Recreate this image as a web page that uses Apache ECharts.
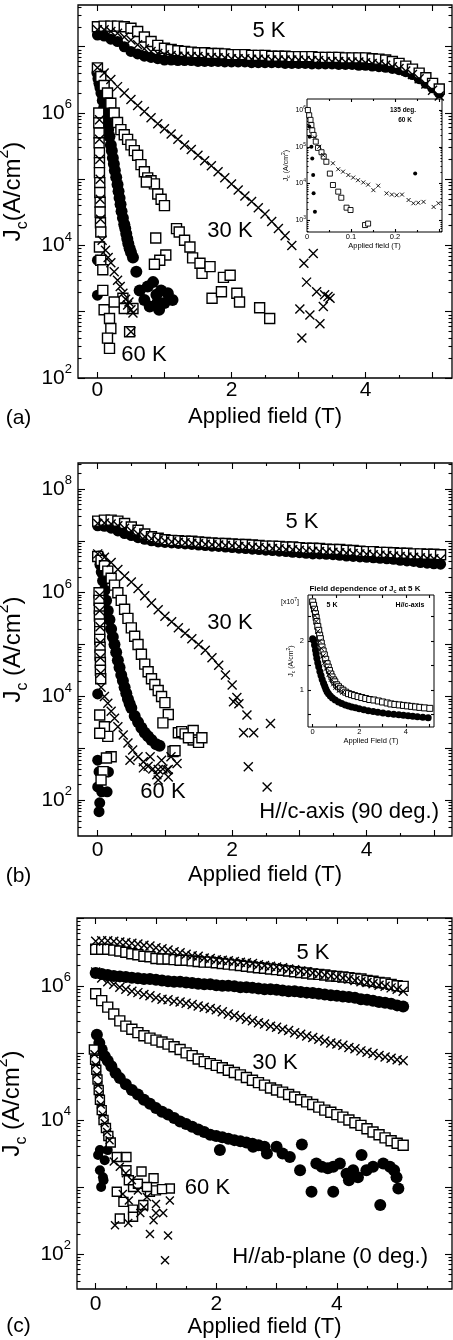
<!DOCTYPE html>
<html>
<head>
<meta charset="utf-8">
<script src="https://cdn.jsdelivr.net/npm/echarts@6/dist/echarts.min.js"></script>
<style>
  html, body { margin: 0; padding: 0; background: #fff; }
  #chart { width: 453px; height: 1340px; }
</style>
</head>
<body>
<div id="chart"></div>
<script>
const FONT = '"Liberation Sans", Arial, Helvetica, sans-serif'

// field grid (T) shared by the dense runs
const field5K = [0,0.1,0.2,0.3,0.4,0.5,0.6,0.7,0.8,0.9,1,1.1,1.2,1.3,1.4,1.5,1.6,1.7,1.8,1.9,2,2.1,2.2,2.3,2.4,2.5,2.6,2.7,2.8,2.9,3,3.1,3.2,3.3,3.4,3.5,3.6,3.7,3.8,3.9,4,4.1,4.2,4.3,4.4,4.5,4.6,4.7,4.8,4.9,5,5.1]
const field30a = [0,0.1,0.2,0.3,0.4,0.5,0.6,0.7,0.8,0.9,1,1.1,1.2,1.3,1.4,1.5,1.6,1.7,1.8,1.9,2,2.1,2.2,2.3,2.4,2.5,2.6,2.7,2.8,2.9]
const field30b = [0,0.1,0.2,0.3,0.4,0.5,0.6,0.7,0.8,0.9,1,1.1,1.2,1.3,1.4,1.5,1.6,1.7,1.8,1.9,2]

// ---- (a) 135 deg, Jc in A/cm2 ----
const sqA5 = [2.0e7,2.05e7,2.05e7,2.05e7,2.0e7,1.9e7,1.7e7,1.4e7,1.2e7,1.05e7,
  9.5e6,9.1e6,8.7e6,8.5e6,8.3e6,8.1e6,8.1e6,7.9e6,7.9e6,7.8e6,
  7.6e6,7.6e6,7.6e6,7.4e6,7.4e6,7.4e6,7.2e6,7.2e6,7.2e6,7.1e6,
  7.1e6,7.1e6,7.1e6,6.9e6,6.9e6,6.9e6,6.9e6,6.8e6,6.8e6,6.8e6,
  6.8e6,6.6e6,6.5e6,6.3e6,6.0e6,5.6e6,5.1e6,4.6e6,4.0e6,3.4e6,
  2.8e6,2.3e6]
const ciA5 = [1.5e7,1.45e7,1.3e7,1.2e7,1.0e7,8.5e6,7.8e6,7.2e6,6.9e6,6.6e6,
  6.3e6,6.3e6,6.2e6,6.2e6,6.2e6,6.0e6,6.0e6,6.0e6,6.0e6,5.9e6,
  5.9e6,5.9e6,5.9e6,5.75e6,5.75e6,5.75e6,5.75e6,5.75e6,5.6e6,5.6e6,
  5.6e6,5.6e6,5.5e6,5.5e6,5.5e6,5.5e6,5.4e6,5.4e6,5.4e6,5.25e6,
  5.25e6,5.1e6,5.0e6,4.9e6,4.7e6,4.5e6,4.2e6,3.8e6,3.3e6,2.8e6,
  2.4e6,2.0e6]
const crA5 = [1.8e7,1.8e7,1.7e7,1.6e7,1.4e7,1.26e7,1.07e7,9.3e6,8.5e6,7.9e6,
  7.6e6,7.4e6,7.2e6,7.2e6,7.1e6,7.1e6,6.9e6,6.9e6,6.8e6,6.8e6,
  6.6e6,6.6e6,6.6e6,6.5e6,6.5e6,6.5e6,6.3e6,6.3e6,6.3e6,6.3e6,
  6.3e6,6.2e6,6.2e6,6.2e6,6.0e6,6.0e6,6.0e6,5.9e6,5.9e6,5.9e6,
  5.75e6,5.6e6,5.5e6,5.25e6,5.0e6,4.7e6,4.3e6,3.8e6,3.3e6,2.75e6,
  2.2e6,1.8e6]
const crA30 = [4.8e6,4.0e6,3.2e6,2.5e6,2.0e6,1.6e6,1.3e6,1.05e6,8.5e5,6.9e5,
  5.8e5,4.8e5,4.0e5,3.3e5,2.8e5,2.3e5,1.9e5,1.6e5,1.3e5,1.05e5,
  8.5e4,6.9e4,5.6e4,4.6e4,3.7e4,3.0e4,2.3e4,1.8e4,1.4e4,1.0e4]
const crA30tail = [[3.08,5.4e3],[3.22,7.6e3],[3.12,2.8e3],[3.27,2.0e3],[3.39,1.8e3],[3.47,1.6e3],[3.44,1.7e3],[3.37,1.2e3],[3.17,890],[3.32,660],[3.05,400],[3.02,1.1e3]]
const sqA30 = [[0,4.8e6],[0.05,3.55e6],[0.1,2.6e6],[0.15,2.0e6],[0.2,1.4e6],[0.25,1.0e6],[0.3,7.2e5],[0.35,5.6e5],[0.4,4.7e5],[0.45,4.0e5],[0.5,3.3e5],[0.55,2.7e5],[0.6,2.3e5],[0.65,1.66e5],[0.7,1.3e5],[0.75,1.05e5],[0.8,9.5e4],[0.85,8.5e4],[0.9,6.0e4],[0.95,5.0e4],[1.0,4.0e4],[0.73,9.1e4],
  [0.87,1.3e4],[1.02,7.2e3],[0.93,6.0e3],[0.85,5.2e3],[1.18,1.8e4],[1.22,1.6e4],[1.3,1.2e4],[1.38,9.5e3],[1.42,6.5e3],[1.53,5.4e3],[1.56,3.8e3],[1.68,4.8e3],[1.88,3.3e3],[1.98,3.55e3],[1.71,1.6e3],[1.85,2.0e3],[2.08,1.9e3],[2.12,1.4e3],[2.42,1.15e3],[2.57,790]]
const ciA30 = [[0,4.0e6],[0.015,3.3e6],[0.03,2.8e6],[0.045,2.4e6],[0.06,2.0e6],[0.08,1.55e6],[0.1,1.2e6],[0.115,1.0e6],[0.13,8.3e5],[0.145,6.8e5],[0.16,5.6e5],[0.18,4.4e5],[0.2,3.3e5],[0.215,2.7e5],[0.23,2.1e5],[0.245,1.7e5],[0.26,1.35e5],[0.28,1.07e5],[0.3,8.3e4],[0.315,6.6e4],[0.33,5.2e4],[0.345,4.2e4],[0.36,3.3e4],[0.38,2.6e4],[0.4,2.1e4],[0.415,1.8e4],[0.43,1.5e4],[0.445,1.26e4],[0.46,1.07e4],[0.48,9.1e3],[0.5,7.9e3],[0.53,6.6e3],
  [0.58,4.0e3],[0.63,2.1e3],[0.75,2.4e3],[0.83,2.8e3],[0.95,2.1e3],[1.05,1.9e3],[1.12,1.5e3],[0.9,1.4e3],[0.78,1.2e3],[0.92,1.07e3],[0.7,1.5e3],[0.88,1.8e3],[1.0,1.35e3]]
const sqA60 = [[0.02,1.0e6],[0.02,7.1e5],[0.025,5.0e5],[0.025,3.55e5],[0.03,2.5e5],[0.03,1.78e5],[0.03,1.26e5],[0.035,8.9e4],[0.035,6.3e4],[0.04,4.5e4],[0.04,3.2e4],[0.045,2.2e4],[0.05,1.6e4],[0.03,9.5e3],[0.05,6.0e3],[0.08,4.3e3],[0.08,2.1e3],[0.1,1.07e3],[0.18,790],[0.2,560],[0.15,400],[0.18,280],[0.38,1.6e3],[0.4,1.12e3],[0.53,1.12e3],[0.48,500],[0.25,1.4e3]]
const crA60 = [[0.03,7.9e5],[0.03,4.0e5],[0.035,2.0e5],[0.04,1.0e5],[0.04,5.0e4],[0.045,2.5e4],[0.07,1.2e4],[0.12,8.5e3],[0.16,6.6e3],[0.2,5.5e3],[0.25,4.0e3],[0.3,3.0e3],[0.34,2.4e3],[0.38,1.9e3],[0.42,1.55e3],[0.45,1.26e3],[0.5,1.07e3],[0.53,955],[0.5,500],[0.47,1.4e3]]
const ciA60 = [[0,6.0e3],[0,1.78e3]]
// inset of (a): 135 deg, 60 K
const insA_sq = [[0.002,1.0e6],[0.005,7.2e5],[0.008,5.4e5],[0.01,3.9e5],[0.012,2.8e5],[0.015,2.1e5],[0.02,1.38e5],[0.025,9.3e4],[0.033,7.1e4],[0.038,5.4e4],[0.044,3.9e4],[0.052,1.86e4],[0.059,9.1e3],[0.071,6.0e3],[0.078,4.1e3],[0.09,2.2e3],[0.099,1.9e3],[0.132,740],[0.139,810]]
const insA_ci = [[0.005,3.55e5],[0.006,1.86e5],[0.01,1.0e5],[0.012,4.8e4],[0.014,1.7e4],[0.015,5.4e3],[0.018,1.7e3],[0.246,1.86e4]]
const insA_cr = [[0.018,1.78e5],[0.028,1.0e5],[0.037,5.9e4],[0.059,3.55e4],[0.071,2.45e4],[0.082,2.1e4],[0.094,1.7e4],[0.105,1.45e4],[0.116,1.23e4],[0.128,1.07e4],[0.139,9.3e3],[0.151,6.6e3],[0.162,8.7e3],[0.181,5.4e3],[0.193,5.0e3],[0.204,4.8e3],[0.216,5.0e3],[0.231,3.55e3],[0.242,2.9e3],[0.253,3.0e3],[0.265,3.16e3],[0.288,2.3e3],[0.299,2.9e3]]

// ---- (b) H//c-axis (90 deg.) ----
const sqB5 = [2.4e7,2.5e7,2.5e7,2.4e7,2.15e7,1.85e7,1.6e7,1.35e7,1.2e7,1.12e7,
  1.05e7,1.02e7,1.0e7,9.8e6,9.8e6,9.5e6,9.3e6,9.1e6,8.9e6,8.9e6,
  8.7e6,8.5e6,8.5e6,8.3e6,8.1e6,7.9e6,7.9e6,7.8e6,7.6e6,7.6e6,
  7.4e6,7.2e6,7.2e6,7.1e6,6.9e6,6.8e6,6.8e6,6.6e6,6.5e6,6.3e6,
  6.2e6,6.2e6,6.0e6,6.0e6,5.9e6,5.75e6,5.75e6,5.6e6,5.6e6,5.5e6,
  5.5e6,5.4e6]
const ciB5 = [1.95e7,1.9e7,1.75e7,1.55e7,1.38e7,1.26e7,1.15e7,1.07e7,1.0e7,9.5e6,
  9.3e6,9.1e6,8.9e6,8.7e6,8.5e6,8.3e6,8.1e6,7.9e6,7.8e6,7.6e6,
  7.4e6,7.2e6,7.1e6,6.9e6,6.8e6,6.6e6,6.5e6,6.3e6,6.2e6,6.0e6,
  5.9e6,5.75e6,5.6e6,5.6e6,5.5e6,5.4e6,5.25e6,5.1e6,5.0e6,4.9e6,
  4.8e6,4.7e6,4.6e6,4.5e6,4.4e6,4.2e6,4.1e6,4.0e6,3.8e6,3.7e6,
  3.6e6,3.55e6]
const crB5 = [2.15e7,2.2e7,2.1e7,1.95e7,1.75e7,1.55e7,1.35e7,1.2e7,1.1e7,1.03e7,
  9.9e6,9.6e6,9.4e6,9.2e6,9.0e6,8.8e6,8.6e6,8.4e6,8.3e6,8.1e6,
  8.0e6,7.8e6,7.7e6,7.5e6,7.4e6,7.2e6,7.1e6,7.0e6,6.8e6,6.7e6,
  6.6e6,6.4e6,6.3e6,6.2e6,6.1e6,6.0e6,5.9e6,5.8e6,5.7e6,5.6e6,
  5.5e6,5.4e6,5.3e6,5.2e6,5.1e6,5.0e6,4.9e6,4.8e6,4.7e6,4.6e6,
  4.5e6,4.4e6]
const crB30 = [5.6e6,4.8e6,3.8e6,2.8e6,2.1e6,1.6e6,1.2e6,8.7e5,6.3e5,4.7e5,
  3.5e5,2.75e5,2.1e5,1.66e5,1.3e5,1.0e5,7.8e4,5.6e4,4.0e4,2.6e4,1.66e4]
const crB30tail = [[2.02,7.9e3],[2.07,9.5e3],[2.1,7.2e3],[2.22,4.4e3],[2.17,2.0e3],[2.32,2.0e3],[2.24,440],[2.57,3.0e3],[2.52,180]]
const sqB30 = [[0,5.0e6],[0.05,4.2e6],[0.1,3.3e6],[0.15,2.6e6],[0.2,1.9e6],[0.25,1.4e6],[0.3,1.0e6],[0.35,7.1e5],[0.4,4.8e5],[0.45,3.2e5],[0.5,2.1e5],[0.55,1.45e5],[0.6,1.0e5],[0.65,6.5e4],[0.7,4.2e4],[0.75,3.0e4],[0.8,2.2e4],[0.85,1.7e4],[0.9,1.3e4],[0.95,1.0e4],[1.0,7.6e3],[1.05,4.5e3],
  [0.97,3.1e3],[1.12,870],[1.2,2.0e3],[1.25,2.1e3],[1.3,1.9e3],[1.42,2.2e3],[1.42,1.45e3],[1.5,1.3e3],[1.55,1.6e3],[1.35,1.6e3],[1.15,900]]
const ciB30 = [[0.02,5.0e6],[0.04,3.5e6],[0.06,2.5e6],[0.08,1.7e6],[0.1,1.12e6],[0.125,7.1e5],[0.15,4.5e5],[0.175,3.0e5],[0.2,2.0e5],[0.225,1.4e5],[0.25,1.0e5],[0.275,7.1e4],[0.3,5.0e4],[0.325,3.6e4],[0.35,2.6e4],[0.375,2.0e4],[0.4,1.5e4],[0.425,1.15e4],[0.45,8.9e3],[0.475,7.2e3],[0.5,6.0e3],[0.55,4.2e3],[0.6,3.2e3],[0.65,2.5e3],[0.7,2.0e3],[0.75,1.7e3],[0.8,1.45e3],[0.87,1.2e3],[0.92,1.12e3]]
const sqB60 = [[0.02,1.0e6],[0.02,7.1e5],[0.025,5.0e5],[0.025,3.55e5],[0.03,2.5e5],[0.03,1.78e5],[0.03,1.26e5],[0.035,8.9e4],[0.035,6.3e4],[0.04,4.5e4],[0.04,3.2e4],[0.045,2.2e4],[0.03,4.4e3],[0.1,2.6e3],[0.15,1.7e3],[0.03,1.95e3],[0.2,690],[0.13,650],[0.08,355],[0.05,245]]
const crB60 = [[0.03,8.9e5],[0.03,4.5e5],[0.035,2.2e5],[0.04,1.1e5],[0.04,5.6e4],[0.045,2.8e4],[0.05,1.5e4],[0.1,1.0e4],[0.15,7.4e3],[0.2,5.2e3],[0.25,3.8e3],[0.3,2.6e3],[0.38,1.8e3],[0.45,1.26e3],[0.52,930],[0.6,690],[0.68,550],[0.75,450],[0.82,400],[0.9,390],[0.97,400],[1.05,390],[0.95,590],[0.9,245],[1.09,690],[1.03,380],[1.18,510],[0.48,590],[0.68,420],[0.88,310],[1.05,280],[0.78,690]]
const ciB60 = [[0,1.12e4],[0,590],[0.02,355],[0,180],[0.06,145],[0.03,89],[0.02,60],[0.14,145],[0.16,350]]
// inset of (b): Jc at 5 K in units of 1e7 A/cm2
const insB_sq = [[0,2.8],[0.04,2.73],[0.08,2.65],[0.12,2.56],[0.15,2.48],[0.18,2.4],[0.22,2.3],[0.26,2.22],[0.3,2.12],[0.33,2.05],[0.37,1.96],[0.4,1.88],[0.45,1.8],[0.5,1.72],[0.56,1.63],[0.62,1.54],[0.67,1.47],[0.72,1.4],[0.78,1.33],[0.83,1.27],[0.9,1.21],[0.95,1.17],[1.03,1.11],[1.11,1.07],[1.2,1.03],[1.3,1.0],[1.42,0.96],[1.54,0.93],[1.67,0.91],[1.8,0.89],[1.95,0.87],[2.11,0.85],[2.28,0.83],[2.45,0.81],[2.63,0.8],[2.82,0.78],[3.0,0.76],[3.2,0.74],[3.36,0.72],[3.53,0.71],[3.72,0.7],[3.9,0.69],[4.07,0.68],[4.25,0.67],[4.42,0.66],[4.6,0.65],[4.8,0.64],[5.03,0.63]]
const insB_ci = [[0,2.05],[0.04,2.02],[0.08,1.92],[0.12,1.82],[0.15,1.74],[0.18,1.65],[0.22,1.56],[0.26,1.48],[0.31,1.38],[0.36,1.3],[0.41,1.22],[0.47,1.14],[0.52,1.08],[0.57,1.02],[0.62,0.97],[0.68,0.93],[0.76,0.88],[0.85,0.84],[0.97,0.8],[1.11,0.76],[1.25,0.73],[1.4,0.7],[1.54,0.68],[1.68,0.66],[1.84,0.64],[2.0,0.62],[2.2,0.6],[2.39,0.58],[2.6,0.565],[2.8,0.55],[3.02,0.535],[3.25,0.52],[3.48,0.51],[3.7,0.5],[3.9,0.49],[4.1,0.48],[4.3,0.47],[4.5,0.46],[4.73,0.45],[4.96,0.44]]
const insB_cr = [[0.04,2.65],[0.1,2.52],[0.15,2.4],[0.22,2.2],[0.3,2.0],[0.37,1.85],[0.45,1.7],[0.52,1.57],[0.6,1.45],[0.7,1.33],[0.8,1.22],[0.9,1.13],[1.0,1.06],[1.15,1.0],[1.3,0.96]]

// ---- (c) H//ab-plane (0 deg.) ----
const crC5 = [4.6e6,4.7e6,4.7e6,4.6e6,4.5e6,4.4e6,4.3e6,4.2e6,4.0e6,3.9e6,
  3.7e6,3.55e6,3.4e6,3.2e6,3.1e6,2.95e6,2.8e6,2.75e6,2.6e6,2.55e6,
  2.45e6,2.4e6,2.35e6,2.3e6,2.25e6,2.2e6,2.15e6,2.05e6,2.0e6,1.95e6,
  1.9e6,1.86e6,1.78e6,1.74e6,1.66e6,1.62e6,1.55e6,1.5e6,1.45e6,1.4e6,
  1.35e6,1.3e6,1.26e6,1.2e6,1.15e6,1.12e6,1.07e6,1.02e6,9.8e5,9.3e5,
  8.9e5,8.3e5]
const sqC5 = [3.5e6,3.5e6,3.5e6,3.4e6,3.3e6,3.16e6,3.0e6,2.9e6,2.75e6,2.7e6,
  2.55e6,2.5e6,2.5e6,2.45e6,2.4e6,2.4e6,2.35e6,2.3e6,2.25e6,2.25e6,
  2.2e6,2.15e6,2.1e6,2.05e6,2.0e6,1.95e6,1.9e6,1.86e6,1.82e6,1.78e6,
  1.74e6,1.7e6,1.66e6,1.62e6,1.58e6,1.55e6,1.5e6,1.48e6,1.45e6,1.4e6,
  1.38e6,1.35e6,1.32e6,1.29e6,1.26e6,1.2e6,1.17e6,1.12e6,1.1e6,1.05e6,
  1.0e6,9.8e5]
const ciC5 = [1.55e6,1.5e6,1.45e6,1.4e6,1.38e6,1.35e6,1.32e6,1.29e6,1.26e6,1.26e6,
  1.23e6,1.2e6,1.17e6,1.15e6,1.15e6,1.12e6,1.1e6,1.07e6,1.05e6,1.05e6,
  1.02e6,1.0e6,1.0e6,9.8e5,9.5e5,9.5e5,9.3e5,9.1e5,8.9e5,8.9e5,
  8.7e5,8.5e5,8.3e5,8.3e5,8.1e5,7.9e5,7.8e5,7.6e5,7.4e5,7.2e5,
  7.1e5,6.9e5,6.8e5,6.6e5,6.3e5,6.2e5,6.0e5,5.75e5,5.6e5,5.4e5,
  5.1e5,4.9e5]
const crC30 = [1.6e6,1.3e6,1.15e6,1.05e6,9.5e5,8.9e5,8.3e5,7.9e5,7.4e5,7.1e5,
  6.6e5,6.3e5,6.2e5,5.9e5,5.75e5,5.5e5,5.25e5,5.0e5,4.8e5,4.6e5,
  4.4e5,4.1e5,3.8e5,3.6e5,3.4e5,3.16e5,3.0e5,2.8e5,2.7e5,2.5e5,
  2.4e5,2.25e5,2.15e5,2.0e5,1.9e5,1.78e5,1.7e5,1.6e5,1.5e5,1.4e5,
  1.35e5,1.3e5,1.2e5,1.15e5,1.07e5,1.02e5,9.8e4,9.1e4,8.7e4,8.3e4,
  7.9e4,7.6e4]
const sqC30 = [7.6e5,6.0e5,4.8e5,3.8e5,3.0e5,2.5e5,2.25e5,2.0e5,1.8e5,1.66e5,
  1.55e5,1.45e5,1.35e5,1.23e5,1.12e5,1.0e5,9.1e4,8.1e4,7.4e4,6.9e4,
  6.5e4,6.0e4,5.5e4,5.1e4,4.7e4,4.3e4,3.9e4,3.6e4,3.3e4,3.0e4,
  2.8e4,2.6e4,2.4e4,2.2e4,2.0e4,1.86e4,1.7e4,1.55e4,1.4e4,1.3e4,
  1.2e4,1.1e4,1.0e4,9.1e3,8.3e3,7.4e3,6.6e3,6.0e3,5.4e3,4.9e3,
  4.5e3,4.2e3]
const ciC30 = [[0.02,1.86e5],[0.06,1.4e5],[0.1,1.12e5],[0.15,8.9e4],[0.2,7.6e4],[0.26,6.3e4],[0.33,5.0e4],[0.4,4.2e4],[0.5,3.4e4],[0.6,2.8e4],[0.7,2.4e4],[0.8,2.0e4],[0.9,1.74e4],[1.0,1.5e4],[1.1,1.32e4],[1.2,1.2e4],[1.3,1.07e4],[1.4,9.5e3],[1.5,8.7e3],[1.6,7.9e3],[1.7,7.2e3],[1.8,6.6e3],[1.9,6.0e3],[2.0,5.75e3],[2.1,5.5e3],[2.2,5.25e3],[2.3,5.0e3],[2.4,4.8e3],[2.5,4.6e3],[2.6,4.4e3],[2.7,4.2e3],[2.8,4.0e3],
  [2.06,3.55e3],[2.61,4.0e3],[2.84,3.16e3],[3.0,4.0e3],[3.1,3.16e3],[3.22,2.8e3],[3.42,4.3e3],[3.39,1.78e3],[3.58,850],[3.66,2.25e3],[3.75,2.0e3],[3.85,1.9e3],[3.94,850],[3.94,2.0e3],[4.05,2.25e3],[4.16,1.58e3],[4.2,1.26e3],[4.27,1.78e3],[4.35,1.4e3],[4.41,3.0e3],[4.49,1.78e3],[4.6,2.0e3],[4.72,540],[4.77,2.25e3],[4.88,2.0e3],[4.95,1.78e3],[4.99,1.4e3],[5.02,950]]
const sqC60 = [[-0.03,1.12e5],[-0.01,7.9e4],[0.01,5.6e4],[0.03,4.0e4],[0.05,2.8e4],[0.07,2.0e4],[0.1,1.4e4],[0.13,1.0e4],[0.17,7.6e3],[0.21,5.75e3],[0.25,4.6e3],[0.35,2.8e3],[0.51,2.8e3],[0.51,1.78e3],[0.35,850],[0.46,600],[0.62,460],[0.62,360],[0.4,340],[0.76,1.7e3],[0.96,1.35e3],[1.23,950],[0.79,540],[0.9,850],[1.0,890],[0.62,1.0e3],[0.7,1.12e3],[0.55,1.26e3],[1.1,930],[0.85,1.0e3]]
const crC60 = [[-0.02,9.5e4],[0,6.6e4],[0.02,4.7e4],[0.04,3.3e4],[0.06,2.4e4],[0.085,1.7e4],[0.115,1.2e4],[0.15,8.9e3],[0.19,6.6e3],[0.23,5.0e3],[0.3,2.4e3],[0.4,2.0e3],[0.5,1.6e3],[0.6,1.26e3],[0.7,890],[0.85,710],[1.0,560],[0.45,790],[0.55,630],[0.32,270],[0.54,290],[0.74,410],[0.8,500],[0.9,200],[0.96,320],[1.0,410],[1.12,410],[1.2,190],[1.15,81],[1.23,630]]
const ciC60 = [[0.04,3.0e3],[0.07,3.55e3],[0.2,3.55e3],[0.15,2.5e3],[0.07,1.78e3],[0.12,1.4e3],[0.13,1.26e3],[0.09,1.0e3]]

// ---------------------------------------------------------------
const grids = [], xAxes = [], yAxes = [], series = []
const TICK = { color: '#000', width: 1.1 }

function logMinor(lo, hi) {
  const out = []
  for (let n = Math.floor(lo); n < hi; n++) {
    for (let k = 2; k < 10; k++) {
      const v = n + Math.log10(k)
      if (v > lo && v < hi) out.push(v)
    }
  }
  return out
}

// every panel gets two grids on the same box: one holds the data, the
// long ticks and the labels; the other only carries the short ticks
function addPanel(o) {
  const rect = { left: o.box[0], top: o.box[1], width: o.box[2], height: o.box[3], outerBoundsMode: 'none', containLabel: false }
  const g = grids.length
  grids.push(Object.assign({ show: true, borderColor: '#000', borderWidth: o.border, backgroundColor: '#fff' }, rect))
  grids.push(Object.assign({ show: false }, rect))
  const xi = xAxes.length, yi = yAxes.length
  const tick = (vals, len) => vals.length
    ? { show: true, inside: true, length: len, customValues: vals, lineStyle: TICK }
    : { show: false }
  const base = gi => ({ gridIndex: gi, type: 'value', splitLine: { show: false }, axisLine: { show: false, onZero: false },
    axisLabel: { show: false }, axisTick: { show: false }, silent: true })
  const xb = gi => Object.assign(base(gi), { min: o.x[0], max: o.x[1] })
  const yb = gi => Object.assign(base(gi), { min: o.y[0], max: o.y[1] })
  xAxes.push(Object.assign(xb(g), { position: 'bottom', axisTick: tick(o.xMajor, o.tick[0]), axisLabel: o.xLabel,
    name: o.xName, nameLocation: 'middle', nameGap: o.xGap, nameTextStyle: o.xNameStyle }))
  xAxes.push(Object.assign(xb(g), { position: 'top', axisTick: tick(o.xMajor, o.tick[0]) }))
  xAxes.push(Object.assign(xb(g + 1), { position: 'bottom', axisTick: tick(o.xMinor, o.tick[1]) }))
  xAxes.push(Object.assign(xb(g + 1), { position: 'top', axisTick: tick(o.xMinor, o.tick[1]) }))
  yAxes.push(Object.assign(yb(g), { position: 'left', axisTick: tick(o.yMajor, o.tick[2]), axisLabel: o.yLabel,
    name: o.yName, nameLocation: 'middle', nameRotate: 90, nameGap: o.yGap, nameTextStyle: o.yNameStyle }))
  yAxes.push(Object.assign(yb(g), { position: 'right', axisTick: tick(o.yMajor, o.tick[2]) }))
  yAxes.push(Object.assign(yb(g + 1), { position: 'left', axisTick: tick(o.yMinor, o.tick[3]) }))
  yAxes.push(Object.assign(yb(g + 1), { position: 'right', axisTick: tick(o.yMinor, o.tick[3]) }))
  return { xi, yi }
}

const CROSS = 'path://M0,0L10,10M10,0L0,10'
const SYMBOL = { ci: 'circle', sq: 'rect', cr: CROSS }
function markStyle(kind, bw) {
  if (kind === 'ci') return { color: '#000', opacity: 1 }
  if (kind === 'sq') return { color: '#fff', borderColor: '#000', borderWidth: bw, opacity: 1 }
  return { color: 'rgba(0,0,0,0)', borderColor: '#000', borderWidth: bw, opacity: 1 }
}
function plot(ax, kind, pts, size, linear, bw) {
  series.push({
    type: 'scatter', xAxisIndex: ax.xi, yAxisIndex: ax.yi,
    symbol: SYMBOL[kind], symbolSize: size, itemStyle: markStyle(kind, bw || 1.4),
    silent: true, emphasis: { disabled: true }, animation: false,
    data: pts.map(p => [p[0], linear ? p[1] : Math.log10(p[1])])
  })
}
const zip = (xs, ys) => xs.map((x, i) => [x, ys[i]])

// axis text styles
const mainX = { show: true, customValues: [0, 2, 4], fontSize: 21, fontFamily: FONT, color: '#000', margin: 2 }
const mainY = vals => ({ show: true, customValues: vals, formatter: v => '10{s|' + Math.round(v) + '}',
  fontSize: 21, lineHeight: 30, fontFamily: FONT, color: '#000', margin: 6,
  rich: { s: { fontSize: 13, lineHeight: 13, verticalAlign: 'top', fontFamily: FONT, color: '#000' } } })
const xNameStyle = { fontSize: 22, fontFamily: FONT, color: '#000' }
const yNameStyle = (fs, sub) => ({ fontSize: fs, lineHeight: fs * 1.45, fontFamily: FONT, color: '#000',
  rich: {
    b: { fontSize: sub, lineHeight: sub, verticalAlign: 'bottom', fontFamily: FONT, color: '#000' },
    t: { fontSize: sub, lineHeight: sub, verticalAlign: 'top', fontFamily: FONT, color: '#000' }
  } })

// ---- panel (a)
const A = addPanel({ box: [78, 5, 374, 373], border: 1.3, x: [-0.29, 5.29], y: [2, 7.63], tick: [6, 3, 7, 3.5],
  xMajor: [0, 1, 2, 3, 4, 5], xMinor: [0.5, 1.5, 2.5, 3.5, 4.5], yMajor: [2, 3, 4, 5, 6, 7], yMinor: logMinor(2, 7.63),
  xLabel: mainX, yLabel: mainY([2, 4, 6]), xName: 'Applied field (T)', xGap: 28, xNameStyle,
  yName: 'J{b|c}(A/cm{t|2})', yGap: 42, yNameStyle: yNameStyle(24, 16) })
plot(A, 'ci', zip(field5K, ciA5), 11)
plot(A, 'ci', ciA30, 12)
plot(A, 'ci', ciA60, 11)
plot(A, 'sq', zip(field5K, sqA5), 10)
plot(A, 'sq', sqA30, 10)
plot(A, 'sq', sqA60, 10)
plot(A, 'cr', zip(field5K, crA5), 9)
plot(A, 'cr', zip(field30a, crA30), 9)
plot(A, 'cr', crA30tail, 9)
plot(A, 'cr', crA60, 9)

// inset of (a)
const IA = addPanel({ box: [307, 99, 135, 133], border: 1, x: [0, 0.307], y: [2.68, 6.3], tick: [3, 2, 3, 1.5],
  xMajor: [0.1, 0.2, 0.3], xMinor: [0.05, 0.15, 0.25], yMajor: [3, 4, 5, 6], yMinor: logMinor(2.68, 6.3),
  xLabel: { show: true, customValues: [0, 0.1, 0.2], formatter: v => (v === 0 ? '0' : v.toFixed(1)),
    fontSize: 7.5, fontFamily: FONT, color: '#000', margin: 1 },
  yLabel: { show: true, customValues: [3, 4, 5, 6], formatter: v => '10{s|' + Math.round(v) + '}',
    fontSize: 7, lineHeight: 10, fontFamily: FONT, color: '#000', margin: 1,
    rich: { s: { fontSize: 5, lineHeight: 5, verticalAlign: 'top', fontFamily: FONT, color: '#000' } } },
  xName: 'Applied field (T)', xGap: 8, xNameStyle: { fontSize: 7.5, fontFamily: FONT, color: '#000' },
  yName: 'J{b|c} (A/cm{t|2})', yGap: 16, yNameStyle: yNameStyle(7, 5) })
plot(IA, 'sq', insA_sq, 5, false, 0.9)
plot(IA, 'ci', insA_ci, 4)
plot(IA, 'cr', insA_cr, 4, false, 0.9)

// ---- panel (b)
const B = addPanel({ box: [78, 463, 374, 373], border: 1.3, x: [-0.293, 5.27], y: [1.31, 8.5], tick: [6, 3, 7, 3.5],
  xMajor: [0, 1, 2, 3, 4, 5], xMinor: [0.5, 1.5, 2.5, 3.5, 4.5], yMajor: [2, 3, 4, 5, 6, 7, 8], yMinor: logMinor(1.31, 8.5),
  xLabel: Object.assign({}, mainX, { margin: 4 }), yLabel: mainY([2, 4, 6, 8]), xName: 'Applied field (T)', xGap: 28, xNameStyle,
  yName: 'J{b|c} (A/cm{t|2})', yGap: 44, yNameStyle: yNameStyle(24, 16) })
plot(B, 'ci', zip(field5K, ciB5), 11)
plot(B, 'ci', ciB30, 12)
plot(B, 'ci', ciB60, 11)
plot(B, 'sq', zip(field5K, sqB5), 10)
plot(B, 'sq', sqB30, 10)
plot(B, 'sq', sqB60, 10)
plot(B, 'cr', zip(field5K, crB5), 9)
plot(B, 'cr', zip(field30b, crB30), 9)
plot(B, 'cr', crB30tail, 9)
plot(B, 'cr', crB60, 9)

// inset of (b)
const IB = addPanel({ box: [308, 595, 126, 132], border: 1, x: [-0.2, 5.21], y: [0.25, 2.94], tick: [3, 2, 3, 2],
  xMajor: [0, 1, 2, 3, 4, 5], xMinor: [], yMajor: [0.5, 1, 1.5, 2, 2.5], yMinor: [],
  xLabel: { show: true, customValues: [0, 2, 4], fontSize: 7.5, fontFamily: FONT, color: '#000', margin: 1 },
  yLabel: { show: true, customValues: [1, 2], fontSize: 7.5, fontFamily: FONT, color: '#000', margin: 4 },
  xName: 'Applied Field (T)', xGap: 9, xNameStyle: { fontSize: 7.5, fontFamily: FONT, color: '#000' },
  yName: 'J{b|c} (A/cm{t|2})', yGap: 10, yNameStyle: yNameStyle(7, 5) })
plot(IB, 'sq', insB_sq, 6, true, 1)
plot(IB, 'cr', insB_cr, 5, true, 1)
plot(IB, 'ci', insB_ci, 7, true)

// ---- panel (c)
const C = addPanel({ box: [77, 918, 375, 371], border: 1.3, x: [-0.31, 5.91], y: [1.48, 7.01], tick: [6, 3, 7, 3.5],
  xMajor: [0, 1, 2, 3, 4, 5], xMinor: [0.5, 1.5, 2.5, 3.5, 4.5, 5.5], yMajor: [2, 3, 4, 5, 6, 7], yMinor: logMinor(1.48, 7.01),
  xLabel: Object.assign({}, mainX, { margin: 5 }), yLabel: mainY([2, 4, 6]), xName: 'Applied field (T)', xGap: 27, xNameStyle,
  yName: 'J{b|c} (A/cm{t|2})', yGap: 44, yNameStyle: yNameStyle(24, 16) })
plot(C, 'ci', zip(field5K, ciC5), 12)
plot(C, 'ci', ciC30, 12)
plot(C, 'ci', ciC60, 10)
plot(C, 'sq', zip(field5K, sqC5), 10)
plot(C, 'sq', zip(field5K, sqC30), 10)
plot(C, 'sq', sqC60, 9)
plot(C, 'cr', zip(field5K, crC5), 9)
plot(C, 'cr', zip(field5K, crC30), 9)
plot(C, 'cr', crC60, 8)

// ---- annotations
function label(x, y, text, size, extra) {
  return { type: 'text', x, y, z: 100, silent: true,
    style: Object.assign({ text, fill: '#000', fontSize: size, fontFamily: FONT, align: 'center', verticalAlign: 'middle' }, extra || {}) }
}
const texts = [
  label(18.5, 418, '(a)', 21),
  label(269, 31, '5 K', 22),
  label(230, 231, '30 K', 22),
  label(144, 355, '60 K', 22),
  label(403, 110, '135 deg.', 6.5, { fontWeight: 'bold' }),
  label(405, 120, '60 K', 6.5, { fontWeight: 'bold' }),

  label(18.5, 876, '(b)', 21),
  label(302, 522, '5 K', 22),
  label(230, 623, '30 K', 22),
  label(163, 792, '60 K', 22),
  label(439, 812, 'H//c-axis (90 deg.)', 22, { align: 'right' }),
  label(365, 589, 'Field dependence of J{b|c} at 5 K', 8, { fontWeight: 'bold', lineHeight: 11,
    rich: { b: { fontSize: 5.5, lineHeight: 5.5, verticalAlign: 'bottom', fontFamily: FONT, fontWeight: 'bold' } } }),
  label(290, 602, '[x10{t|7}]', 7, { lineHeight: 10,
    rich: { t: { fontSize: 5, lineHeight: 5, verticalAlign: 'top', fontFamily: FONT } } }),
  label(332, 605, '5 K', 7, { fontWeight: 'bold' }),
  label(410, 605, 'H//c-axis', 7, { fontWeight: 'bold' }),

  label(18.5, 1326, '(c)', 21),
  label(313, 953, '5 K', 22),
  label(275, 1063, '30 K', 22),
  label(207.5, 1188, '60 K', 22),
  label(428, 1257, 'H//ab-plane (0 deg.)', 22, { align: 'right' })
]

const chart = echarts.init(document.getElementById('chart'), null, { renderer: 'canvas' })
chart.setOption({
  animation: false,
  backgroundColor: '#fff',
  grid: grids,
  xAxis: xAxes,
  yAxis: yAxes,
  series,
  graphic: texts
})
</script>
</body>
</html>
